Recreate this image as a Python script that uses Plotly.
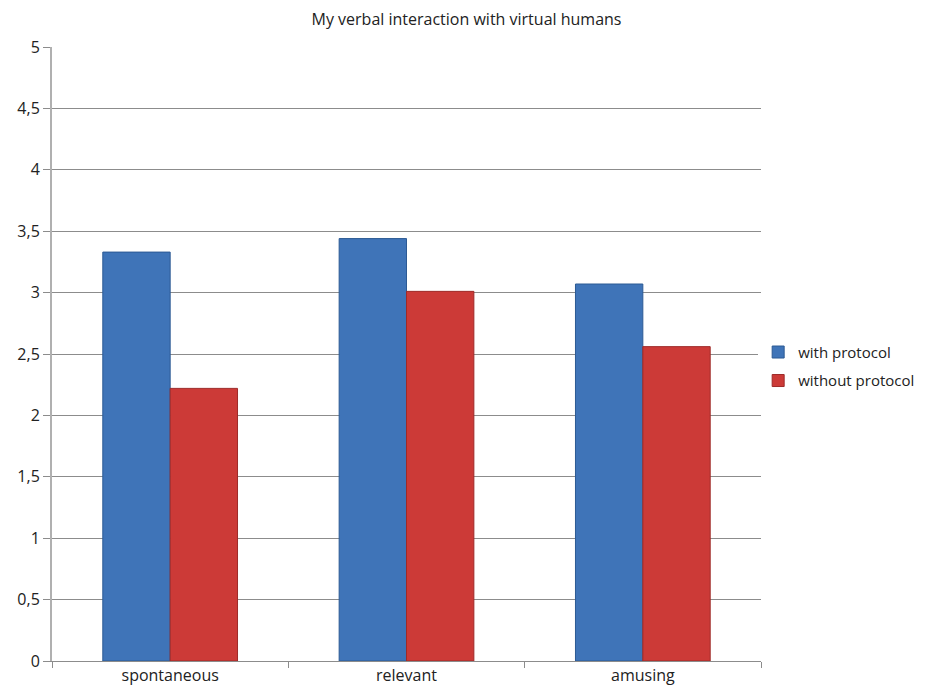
import plotly.graph_objects as go

categories = ["spontaneous", "relevant", "amusing"]
with_protocol = [3.33, 3.44, 3.07]
without_protocol = [2.22, 3.01, 2.56]
y_ticks = [0, 0.5, 1, 1.5, 2, 2.5, 3, 3.5, 4, 4.5, 5]

BLUE = "#3f74b8"
RED = "#cc3a37"
GRID = "#8c8c8c"
FONT = "Open Sans, Noto Sans, sans-serif"

fig = go.Figure()
fig.add_trace(go.Bar(
    x=categories, y=with_protocol, name="with protocol", legendgroup="a",
    marker=dict(color=BLUE, line=dict(color="#2c5a94", width=1)),
))
fig.add_trace(go.Bar(
    x=categories, y=without_protocol, name="without protocol", legendgroup="b",
    marker=dict(color=RED, line=dict(color="#9e2a28", width=1)),
))

# page has an 8px body margin, so the figure is sized to fit the window
fig.update_layout(
    width=917, height=689,
    paper_bgcolor="white", plot_bgcolor="white",
    separators=", ",
    font=dict(family=FONT, color="#222", size=16),
    margin=dict(l=44, r=164, t=39, b=36, autoexpand=False),
    title=dict(text="My verbal interaction with virtual humans",
               x=0.5, xanchor="center", y=1 - 11 / 689, yanchor="middle",
               font=dict(size=16, color="#222")),
    barmode="group", bargap=0.43, bargroupgap=0,
    xaxis=dict(showline=True, linecolor=GRID, linewidth=1, ticks="outside",
               tickson="boundaries", ticklen=6, tickcolor=GRID,
               tickfont=dict(size=16), showgrid=False),
    yaxis=dict(range=[0, 5], tickvals=y_ticks, showline=True, linecolor="#b0b0b0",
               linewidth=2, gridcolor=GRID, gridwidth=1, ticks="outside",
               ticklen=7, tickcolor=GRID, tickfont=dict(size=16), zeroline=False),
    legend=dict(x=0.996, y=0.48, xanchor="left", yanchor="middle",
                font=dict(size=15), traceorder="grouped", tracegroupgap=6,
                itemwidth=30),
)

fig.write_html("out.html")
